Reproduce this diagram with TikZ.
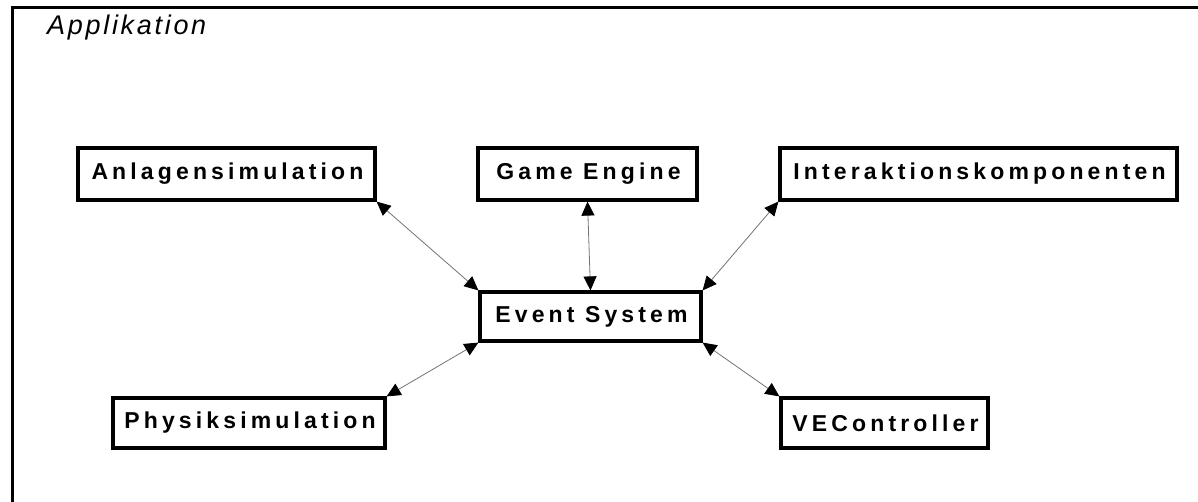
\documentclass[tikz,border=0pt]{standalone}
\usepackage{fontspec}
\setmainfont{Liberation Sans}
\newfontfamily\boxfont[LetterSpace=18]{Liberation Sans Bold}
\newfontfamily\titlefont[LetterSpace=10]{Liberation Sans Italic}
\usetikzlibrary{arrows.meta}
\tikzset{
  compbox/.style={draw, line width=3.2pt, inner sep=0pt, align=center,
    font=\boxfont\fontsize{23}{27}\selectfont},
  link/.style={draw=black!55, line width=0.8pt,
    {Triangle[length=14pt,width=13pt,color=black]}-{Triangle[length=14pt,width=13pt,color=black]}},
}
\begin{document}
\begin{tikzpicture}[x=1pt,y=-1pt]
\useasboundingbox (0,0) rectangle (1198,502);
% outer package frame (open to the right and bottom)
\draw[line width=3pt] (12.5,510) -- (12.5,7.5) -- (1210,7.5);
\node[anchor=base west, font=\titlefont\fontsize{27}{30}\selectfont, inner sep=0pt] (title) at (47,35) {Applikation};

\node[compbox, minimum width=297pt, minimum height=52pt] (anl) at (226.5,174) {\hspace{2pt}Anlagensimulation};
\node[compbox, minimum width=219pt, minimum height=52pt] (ge)  at (587.5,174) {\hspace{2pt}Game Engine};
\node[compbox, minimum width=397pt, minimum height=52pt] (ik)  at (978.5,174) {\hspace{2pt}Interaktionskomponenten};
\node[compbox, minimum width=221pt, minimum height=49pt] (ev)  at (590.5,316.5) {\hspace{2pt}Event System};
\node[compbox, minimum width=272pt, minimum height=50pt] (ph)  at (249,423) {\hspace{2pt}Physiksimulation};
\node[compbox, minimum width=207pt, minimum height=50pt] (ve)  at (884.5,423) {\hspace{2pt}VEController};

\draw[link] (anl.south east) -- (ev.north west);
\draw[link] (ge.south) -- (ev.north);
\draw[link] (ik.south west) -- (ev.north east);
\draw[link] (ph.north east) -- (ev.south west);
\draw[link] (ve.north west) -- (ev.south east);
\end{tikzpicture}
\end{document}
